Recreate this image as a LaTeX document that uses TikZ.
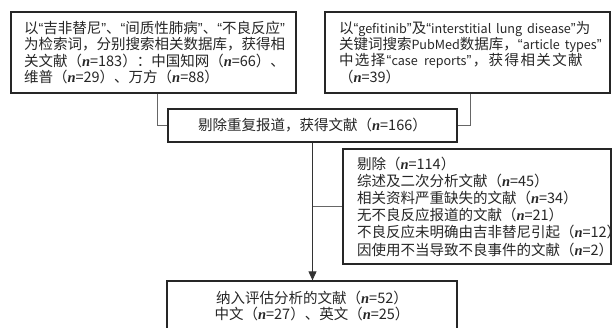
\documentclass[tikz,border=0pt]{standalone}
\usepackage{fontspec}
\setmainfont{Noto Sans CJK SC}
\newfontfamily\nfont{Liberation Serif}
\newfontfamily\qfont{Liberation Sans}
\usetikzlibrary{arrows.meta}
\newcommand{\nn}{{\nfont\bfseries\itshape n}}
\newcommand{\ql}{{\qfont “}}
\newcommand{\qr}{{\qfont ”}}
\newcommand{\gp}{\hskip 1.4pt\relax}
\newcommand{\la}[1]{{\fontsize{12.6}{16.2}\selectfont #1}}
\newcommand{\jl}[2]{\makebox[#1][s]{\XeTeXlinebreaklocale "zh"\XeTeXlinebreakskip=0pt plus 3pt #2\XeTeXlinebreaklocale ""}}
\tikzset{
  box/.style={draw=black!85, line width=1.3pt, inner ysep=0pt, text=black!85,
    font=\fontsize{14.5}{16.2}\selectfont},
  conn/.style={draw=black!60, line width=0.9pt},
  arr/.style={conn, -{Triangle[length=9pt,width=8pt]}, draw=black!80}
}
\begin{document}
\begin{tikzpicture}[x=1pt,y=-1pt]
\useasboundingbox (0,0) rectangle (612,327);
\node[box, minimum width=285pt, minimum height=81pt, inner xsep=13pt, text width=259pt, align=left] (b1) at (153.5,52.5)
 {\jl{267pt}{以\ql 吉非替尼\qr 、\ql 间质性肺病\qr 、\ql 不良反应\qr}\\
  \jl{267pt}{为检索词，分别搜索相关数据库，获得相}\\
  \jl{267pt}{关文献（\nn=183）：中国知网（\nn=66）、}\\
  维普（\nn=29）、万方（\nn=88）};
\node[box, minimum width=285pt, minimum height=81pt, inner xsep=14pt, text width=257pt, align=left] (b2) at (467.5,52.5)
 {\jl{263pt}{以\ql\la{gefitinib}\qr 及\ql\la{interstitial lung disease}\qr 为}\\
  \jl{263pt}{关键词搜索\la{PubMed}数据库，\ql\la{article types}\qr}\\
  中\gp 选\gp 择\gp\ql\la{case\gp\ reports}\qr\gp ，\gp 获\gp 得\gp 相\gp 关\gp 文\gp 献\\
  （\nn=39）};
\node[box, minimum width=289pt, minimum height=33pt, align=center] (b3) at (312.5,125.5)
 {剔除重复报道，获得文献（\nn=166）};
\node[box, minimum width=268pt, minimum height=115pt, inner xsep=14pt, text width=240pt, align=left,
  font=\fontsize{14.5}{17.2}\selectfont] (b5) at (477,206.5)
 {剔除（\nn=114）\\
  综述及二次分析文献（\nn=45）\\
  相关资料严重缺失的文献（\nn=34）\\
  无不良反应报道的文献（\nn=21）\\
  不良反应未明确由吉非替尼引起（\nn=12）\\
  因使用不当导致不良事件的文献（\nn=2）};
\node[box, minimum width=290pt, minimum height=50pt, align=center] (b4) at (312,306)
 {纳入评估分析的文献（\nn=52）\\
  中文（\nn=27）、英文（\nn=25）};
\draw[conn] ([xshift=3.5pt]b1.south) |- (b3.west);
\draw[conn] ([xshift=2.5pt]b2.south) |- (b3.east);
\draw[arr] (b3.south) -- (b3.south |- b4.north);
\draw[conn] (b3.south |- b5.west) -- (b5.west);
\end{tikzpicture}
\end{document}
